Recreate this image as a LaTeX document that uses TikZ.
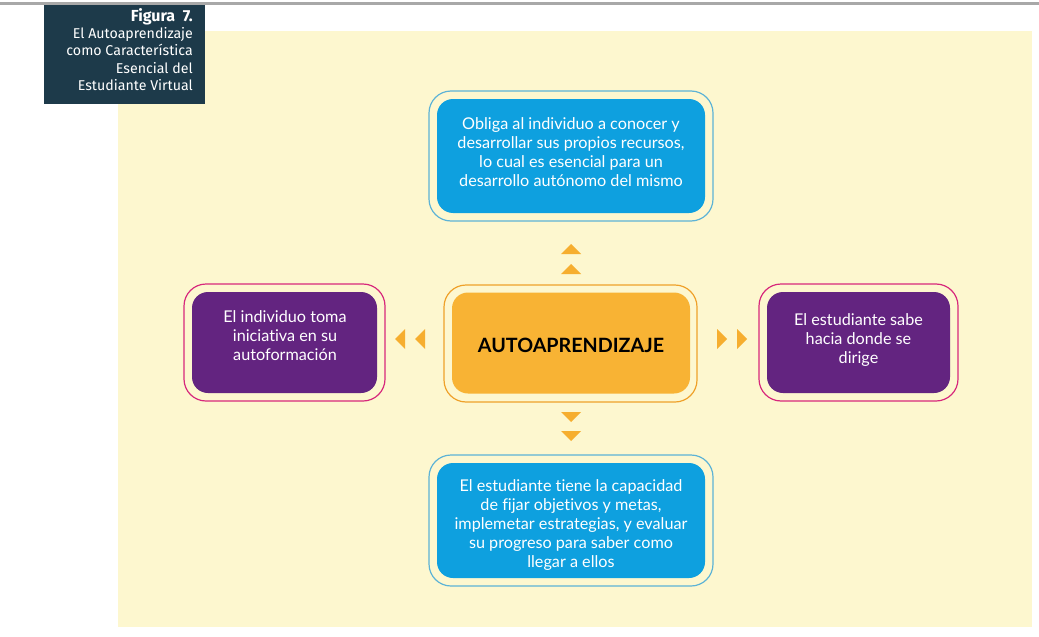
\documentclass[tikz,border=0pt]{standalone}
\usepackage{fontspec}
\setmainfont{Lato}[Ligatures={NoCommon}]
\newfontfamily\capfont{Fira Sans}[Ligatures={NoCommon}]
\usetikzlibrary{positioning}
\definecolor{bgyellow}{HTML}{FDF7CF}
\definecolor{capblue}{HTML}{1D3A4A}
\definecolor{boxblue}{HTML}{0EA0DF}
\definecolor{rimblue}{HTML}{5DB3D6}
\definecolor{boxorange}{HTML}{F8B334}
\definecolor{rimorange}{HTML}{EFA12A}
\definecolor{boxpurple}{HTML}{632480}
\definecolor{rimpink}{HTML}{D7287C}
\definecolor{arrorange}{HTML}{F6AE2F}
\definecolor{topgray}{HTML}{A8A8A8}
\tikzset{
  rim/.style={draw, line width=1.2pt, rounded corners=22pt, fill=none, inner sep=0pt},
  core/.style={rounded corners=16pt, inner sep=0pt},
  txt/.style={inner sep=0pt, align=center, text=white,
    font=\fontsize{16.2}{19}\selectfont},
  tri/.style={fill=arrorange, draw=none},
}
\begin{document}
\begin{tikzpicture}[x=1pt,y=-1pt]
\useasboundingbox (0,0) rectangle (1039,637);
\fill[white] (0,0) rectangle (1039,637);
% top gray line
\fill[topgray] (0,2) rectangle (1039,5);
% background
\fill[bgyellow] (118,31) rectangle (1032,627);
% caption
\node[fill=capblue, minimum width=161pt, minimum height=99pt, anchor=north west, inner sep=0pt] (cap) at (44,5) {};
\node[anchor=north east, align=right, text=white, inner sep=0pt,
  font=\capfont\fontsize{14.2}{17.4}\selectfont] (captext) at (193,8)
  {{\fontsize{16}{17.4}\selectfont\bfseries Figura\ \ 7.}\\El Autoaprendizaje\\como Característica\\Esencial del\\Estudiante Virtual};

% top box
\node[rim, draw=rimblue, minimum width=284pt, minimum height=130pt] (topo) at (571,156) {};
\node[core, fill=boxblue, minimum width=268pt, minimum height=114pt] (top) at (571,156) {};
\node[txt] (toptext) at (571,152.5)
  {Obliga al individuo a conocer y\\desarrollar sus propios recursos,\\lo cual es esencial para un\\desarrollo autónomo del mismo};
% center box
\node[rim, draw=rimorange, minimum width=253pt, minimum height=117pt] (ceno) at (570.5,343.5) {};
\node[core, fill=boxorange, minimum width=238pt, minimum height=101pt] (cen) at (571,343) {};
\node[inner sep=0pt, text=black, font=\bfseries\fontsize{19.7}{24}\selectfont] (centext) at (571,345.5) {AUTOAPRENDIZAJE};
% left box
\node[rim, draw=rimpink, minimum width=201pt, minimum height=117pt] (lefto) at (284.5,342.5) {};
\node[core, fill=boxpurple, minimum width=185pt, minimum height=101pt] (left) at (284.5,342.5) {};
\node[txt] (lefttext) at (285,335.5)
  {El individuo toma\\iniciativa en su\\autoformación};
% right box
\node[rim, draw=rimpink, minimum width=199pt, minimum height=117pt] (righto) at (858.5,342.5) {};
\node[core, fill=boxpurple, minimum width=183pt, minimum height=101pt] (right) at (858.5,342.5) {};
\node[txt] (righttext) at (858.5,340.5)
  {El estudiante sabe\\hacia donde se\\dirige};
% bottom box
\node[rim, draw=rimblue, minimum width=284pt, minimum height=131pt] (boto) at (571,520.5) {};
\node[core, fill=boxblue, minimum width=268pt, minimum height=115pt] (bot) at (571,520.5) {};
\node[txt] (bottext) at (571,525.5)
  {El estudiante tiene la capacidad\\de fijar objetivos y metas,\\implemetar estrategias, y evaluar\\su progreso para saber como\\llegar a ellos};

% arrow triangles
\coordinate (u1) at (571,249);
\coordinate (u2) at (571,269);
\foreach \c in {u1,u2}{\fill[tri] ([shift={(-10,5)}]\c) -- ([shift={(10,5)}]\c) -- ([shift={(0,-5)}]\c) -- cycle;}
\coordinate (d1) at (571,417);
\coordinate (d2) at (571,436);
\foreach \c in {d1,d2}{\fill[tri] ([shift={(-10,-5)}]\c) -- ([shift={(10,-5)}]\c) -- ([shift={(0,5)}]\c) -- cycle;}
\coordinate (l1) at (400,339);
\coordinate (l2) at (420,339);
\foreach \c in {l1,l2}{\fill[tri] ([shift={(5,-10)}]\c) -- ([shift={(5,10)}]\c) -- ([shift={(-5,0)}]\c) -- cycle;}
\coordinate (r1) at (722,339);
\coordinate (r2) at (742,339);
\foreach \c in {r1,r2}{\fill[tri] ([shift={(-5,-10)}]\c) -- ([shift={(-5,10)}]\c) -- ([shift={(5,0)}]\c) -- cycle;}
\end{tikzpicture}
\end{document}
